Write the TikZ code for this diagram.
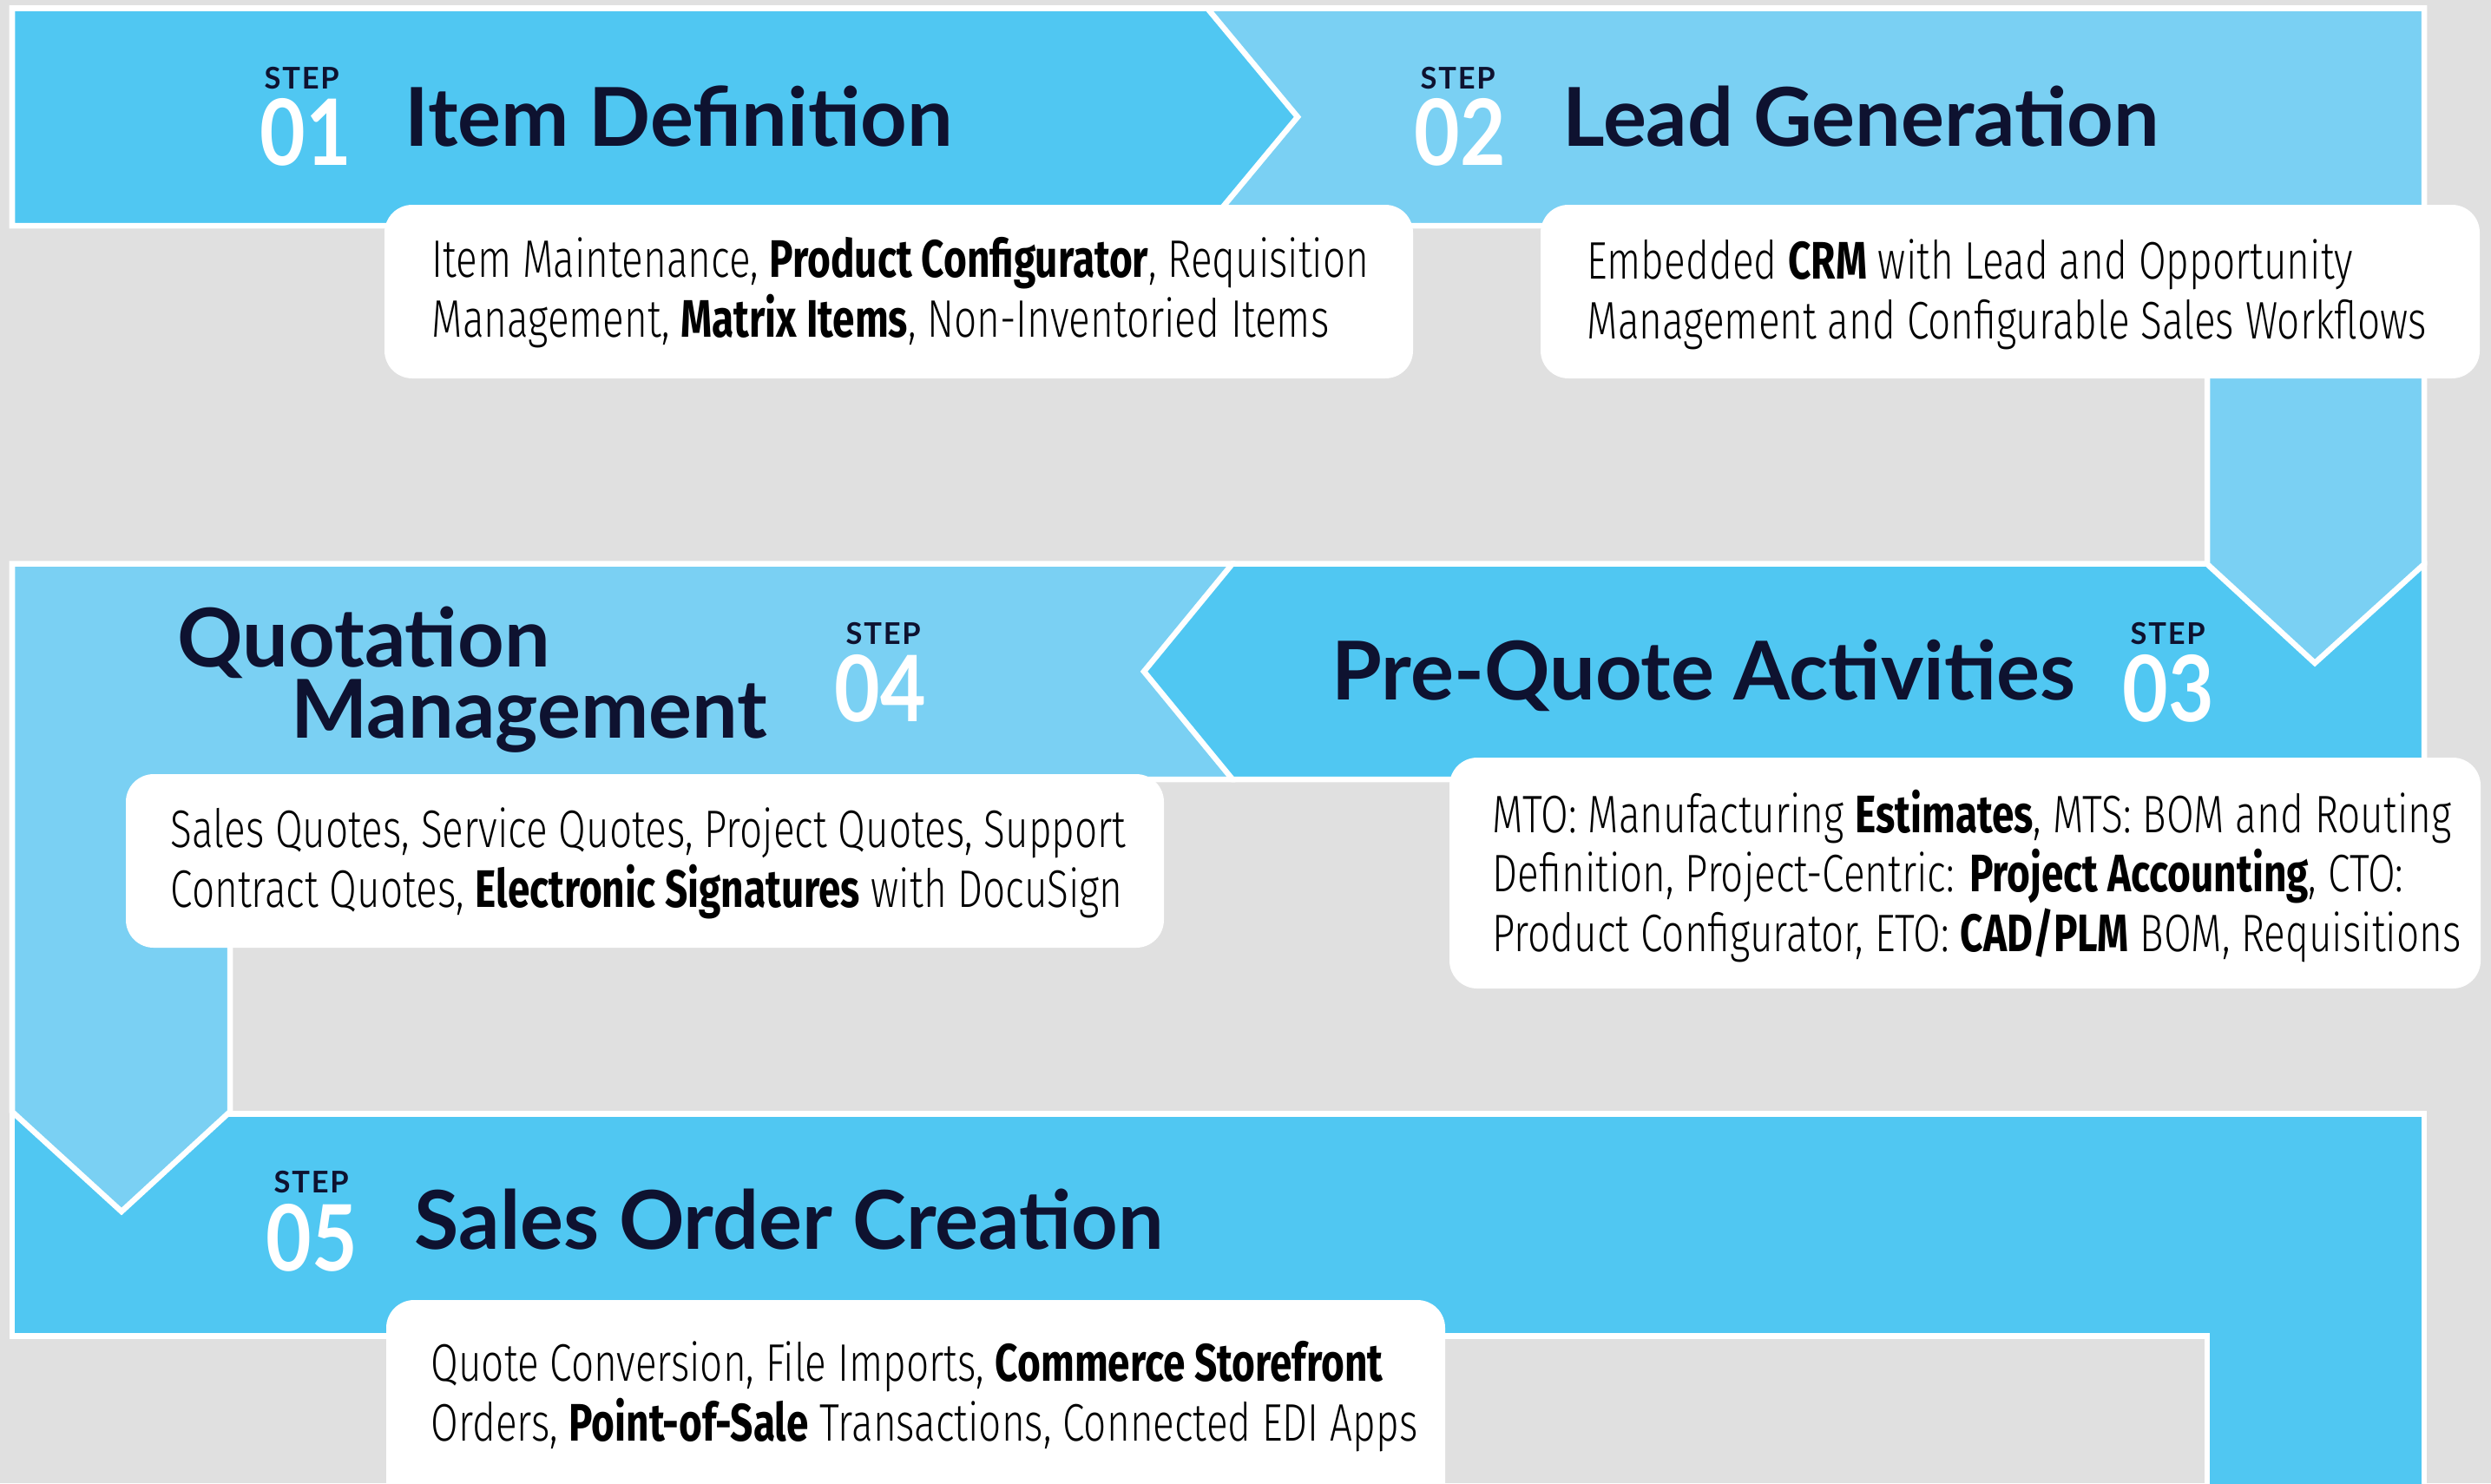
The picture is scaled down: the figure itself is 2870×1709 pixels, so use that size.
\documentclass[tikz,border=0pt]{standalone}
\usepackage{fontspec}
\setmainfont{Lato}
\IfFontExistsTF{Lato Black}
  {\newfontfamily\numfont[FakeStretch=0.86]{Lato Black}
   \newfontfamily\stepfont[LetterSpace=5]{Lato Black}}
  {\newfontfamily\numfont[FakeStretch=0.86,FakeBold=1.6]{Lato}
   \newfontfamily\stepfont[LetterSpace=5,FakeBold=0.8]{Lato}}
\newfontfamily\bodyfont[FakeStretch=0.755,UprightFont={* Light},BoldFont={* Bold}]{Fira Sans}

\definecolor{darkband}{RGB}{80,199,242}
\definecolor{lightband}{RGB}{122,208,243}
\definecolor{pagegray}{RGB}{224,224,224}
\definecolor{titlenavy}{RGB}{14,18,48}

\tikzset{
  band/.style={draw=white, line width=0.065cm, line join=miter},
  descbox/.style={fill=white, rounded corners=0.32cm},
  steptag/.style={anchor=base west, inner sep=0, text=titlenavy,
    font=\stepfont\fontsize{9.8}{10}\selectfont\bfseries},
  numtag/.style={anchor=base west, inner sep=0, text=white,
    font=\numfont\fontsize{30}{30}\selectfont\bfseries},
  titletag/.style={anchor=base west, inner sep=0, text=titlenavy,
    font=\fontsize{26.6}{30}\selectfont\bfseries},
  desctag/.style={anchor=base west, inner sep=0, align=left, text=black,
    font=\bodyfont\fontsize{17.3}{19.35}\selectfont}
}

\begin{document}
\begin{tikzpicture}[x=0.01cm, y=-0.01cm]
\useasboundingbox (0,0) rectangle (2870,1709);
\fill[pagegray] (0,0) rectangle (2870,1709);

% row 3
\draw[band, fill=darkband] (14,1283.5) -- (2793,1283.5) -- (2793,1760) -- (2543,1760)
  -- (2543,1539.5) -- (14,1539.5) -- cycle;
% row 2
\draw[band, fill=lightband] (14,649.5) -- (1420,649.5) -- (1420,898) -- (265,898)
  -- (265,1281) -- (140,1396) -- (14,1281) -- cycle;
\draw[band, fill=darkband] (1420,649.5) -- (2793,649.5) -- (2793,898) -- (1420,898)
  -- (1318,773.75) -- cycle;
% row 1
\draw[band, fill=lightband] (1391,9.5) -- (2793,9.5) -- (2793,650) -- (2667,764)
  -- (2543,650) -- (2543,260) -- (1391,260) -- cycle;
\draw[band, fill=darkband] (14,9.5) -- (1391,9.5) -- (1495,134.75) -- (1391,260)
  -- (14,260) -- cycle;

% white boxes
\fill[descbox] (443,236) rectangle (1628,436);
\fill[descbox] (1775,236) rectangle (2857,436);
\fill[descbox] (145,892) rectangle (1341,1092);
\fill[descbox] (1670,873) rectangle (2858,1139);
\fill[descbox] (445,1498) rectangle (1665,1780);

\foreach \n/\x/\y in {1/304/102, 2/1636/102, 3/2454/742, 4/974/742, 5/315/1374}
  \node[steptag] (step\n) at (\x,\y) {STEP};
\foreach \n/\x/\y in {1/299/190, 2/1629/190, 3/2445/831, 4/961/831, 5/306/1464}
  \node[numtag] (num\n) at (\x,\y) {0\n};

\node[titletag] (title1) at (466,168) {Item Definition};
\node[titletag] (title2) at (1800,168) {Lead Generation};
\node[titletag] (title3) at (1534,806) {Pre-Quote Activities};
\node[titletag] (title4a) at (204,768) {Quotation};
\node[titletag] (title4b) at (335,850) {Management};
\node[titletag] (title5) at (477,1439) {Sales Order Creation};

% anchors sit on the last text line
\node[desctag] (desc1) at (497,388) {Item Maintenance, \textbf{Product Configurator}, Requisition\\
  Management, \textbf{Matrix Items}, Non-Inventoried Items};
\node[desctag] (desc2) at (1828,390) {Embedded \textbf{CRM} with Lead and Opportunity\\
  Management and Configurable Sales Workflows};
\node[desctag] (desc3) at (1719,1096) {MTO: Manufacturing \textbf{Estimates}, MTS: BOM and Routing\\
  Definition, Project-Centric: \textbf{Project Accounting}, CTO:\\
  Product Configurator, ETO: \textbf{CAD/PLM} BOM, Requisitions};
\node[desctag] (desc4) at (196,1045) {Sales Quotes, Service Quotes, Project Quotes, Support\\
  Contract Quotes, \textbf{Electronic Signatures} with DocuSign};
\node[desctag] (desc5) at (496,1660) {Quote Conversion, File Imports, \textbf{Commerce Storefront}\\
  Orders, \textbf{Point-of-Sale} Transactions, Connected EDI Apps};
\end{tikzpicture}
\end{document}
